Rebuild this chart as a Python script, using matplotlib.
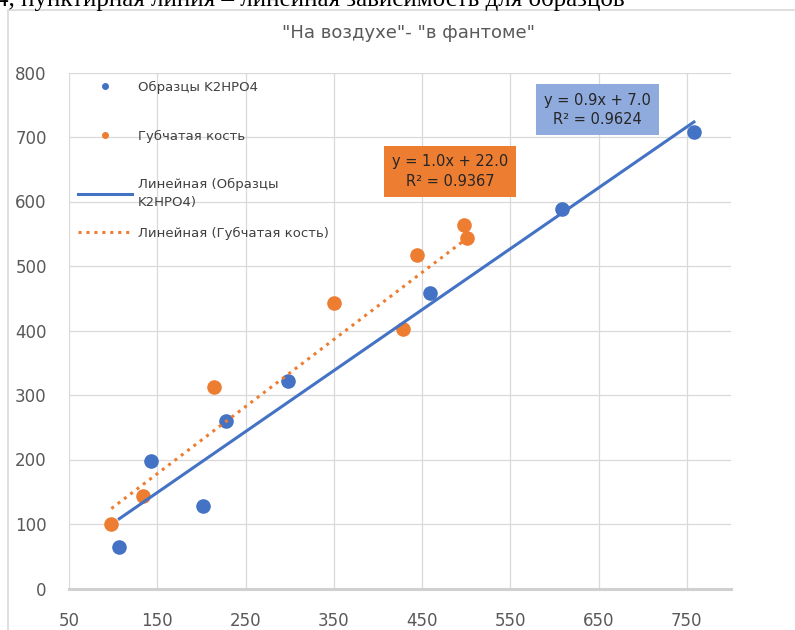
import numpy as np
import matplotlib.pyplot as plt
from matplotlib.lines import Line2D
from matplotlib.patches import Rectangle

# Data: "on air" (x) vs "in phantom" (y)
k2hpo4_x = [107, 143, 202, 228, 298, 459, 609, 758]
k2hpo4_y = [64, 198, 128, 260, 321, 458, 588, 708]
bone_x = [98, 134, 214, 350, 428, 444, 497, 501]
bone_y = [100, 143, 313, 442, 403, 517, 563, 543]

# Linear trendlines (slope, intercept) and R^2
k2hpo4_fit = (0.945, 7.0)
bone_fit = (1.04, 22.0)
k2hpo4_r2 = 0.9624
bone_r2 = 0.9367

x_ticks = list(range(50, 800, 100))
y_ticks = list(range(0, 900, 100))

blue = '#4472c4'
orange = '#ed7d31'
grid_c = '#d9d9d9'
text_c = '#595959'

fig = plt.figure(figsize=(7.95, 6.3), dpi=100)

# Document text above the chart (cut by the page edge)
fig.text(-4 / 795, 1 - 6 / 630, '4, пунктирная линия – линейная зависимость для образцов',
         fontsize=18, family='Liberation Serif', color='black', ha='left', va='baseline')

# Chart frame
fig.patches.append(Rectangle((8 / 795, -0.1), 1.2, 1 - 10 / 630 + 0.1, transform=fig.transFigure,
                             fill=False, edgecolor='#d9d9d9', lw=1.2))

ax = fig.add_axes([69 / 795, 41.5 / 630, 662 / 795, 516 / 630])

ax.scatter(k2hpo4_x, k2hpo4_y, s=90, color=blue, zorder=3)
ax.scatter(bone_x, bone_y, s=90, color=orange, zorder=3)

xb = np.array([min(k2hpo4_x), max(k2hpo4_x)])
ax.plot(xb, k2hpo4_fit[0] * xb + k2hpo4_fit[1], color=blue, lw=2.2, zorder=4)
xo = np.array([min(bone_x), max(bone_x)])
ax.plot(xo, bone_fit[0] * xo + bone_fit[1], color=orange, lw=2.2,
        linestyle=(0, (1, 1.6)), zorder=4)

ax.text(649, 742, 'y = {:.1f}x + {:.1f}\nR² = {:.4f}'.format(k2hpo4_fit[0], k2hpo4_fit[1], k2hpo4_r2),
        ha='center', va='center', fontsize=10.5, color='#262626', linespacing=1.4, zorder=5,
        bbox=dict(boxstyle='square,pad=0.55', facecolor='#8faadc', edgecolor='none'))
ax.text(482, 646, 'y = {:.1f}x + {:.1f}\nR² = {:.4f}'.format(bone_fit[0], bone_fit[1], bone_r2),
        ha='center', va='center', fontsize=10.5, color='#262626', linespacing=1.4, zorder=5,
        bbox=dict(boxstyle='square,pad=0.55', facecolor=orange, edgecolor='none'))

ax.set_xlim(50, 800)
ax.set_ylim(0, 800)
ax.set_xticks(x_ticks)
ax.set_yticks(y_ticks)
ax.grid(True, color=grid_c, lw=0.9)
ax.set_axisbelow(True)
ax.tick_params(length=0, labelsize=12, labelcolor=text_c)
ax.tick_params(axis='x', pad=17)
ax.tick_params(axis='y', pad=16)
for side in ['top', 'right', 'left']:
    ax.spines[side].set_visible(False)
ax.spines['bottom'].set_color('#d0d0d0')
ax.spines['bottom'].set_linewidth(2.2)

# Legend: series and trendlines, the last entry packed tighter
handles = [
    Line2D([], [], marker='o', ls='none', color=blue, markersize=4),
    Line2D([], [], marker='o', ls='none', color=orange, markersize=4),
    Line2D([], [], color=blue, lw=2.2),
    Line2D([], [], color=orange, lw=2.2, linestyle=(0, (1, 1.6))),
]
labels = ['Образцы K2HPO4', 'Губчатая кость', 'Линейная (Образцы\nK2HPO4)',
          'Линейная (Губчатая кость)']
leg_opts = dict(loc='upper left', frameon=False, fontsize=9.5, handlelength=4.1,
                handletextpad=0.45, borderpad=0, borderaxespad=0)
leg1 = ax.legend(handles[:3], labels[:3], bbox_to_anchor=(0.0136, 0.9835),
                 labelspacing=2.7, **leg_opts)
ax.add_artist(leg1)
leg2 = ax.legend(handles[3:], labels[3:], bbox_to_anchor=(0.0136, 0.7006), **leg_opts)
for leg in (leg1, leg2):
    for t in leg.get_texts():
        t.set_color('#404040')
        t.set_linespacing(1.45)

fig.text(408 / 795, 1 - 33 / 630, '"На воздухе"- "в фантоме"', fontsize=13,
         color=text_c, ha='center', va='center')

fig.savefig('out.png', dpi=100)
